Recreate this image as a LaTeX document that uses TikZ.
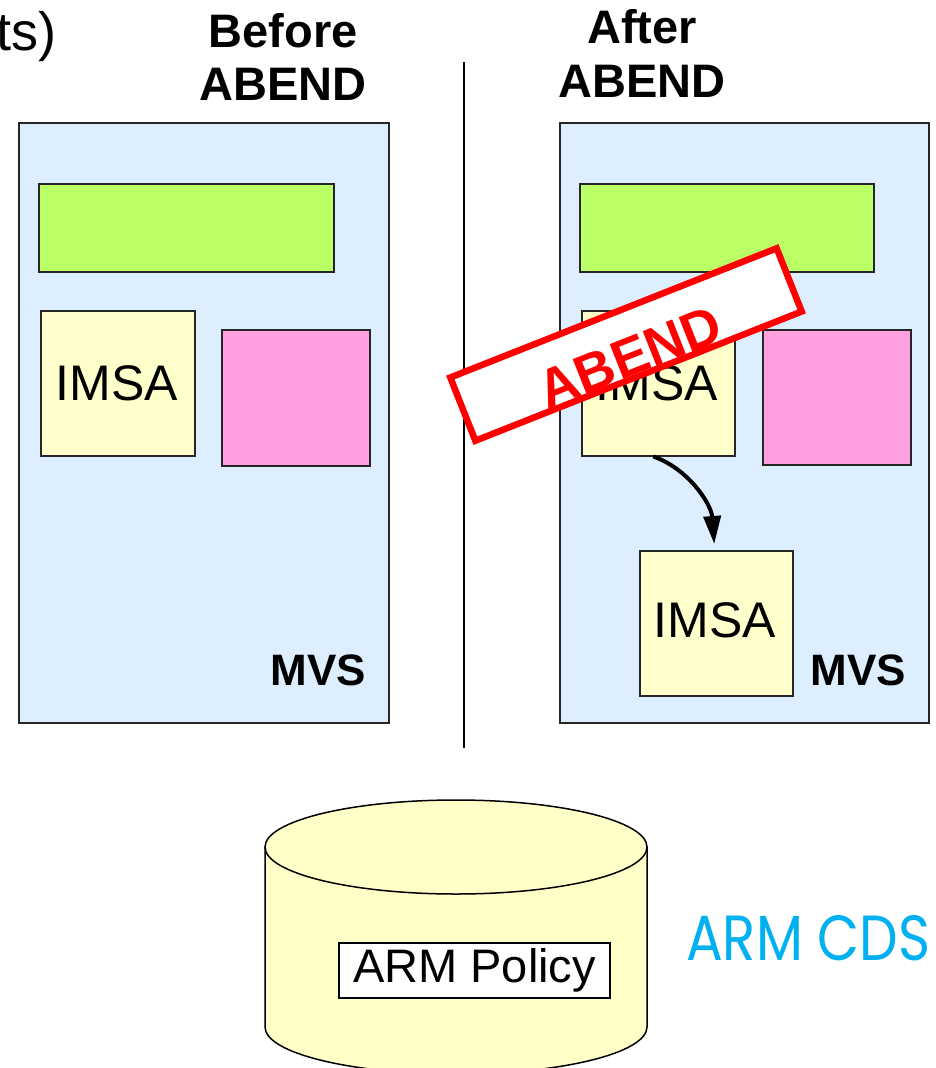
\documentclass[tikz,border=0pt]{standalone}
\usepackage{fontspec}
\setmainfont{Liberation Sans}
\newfontfamily\cdsfont{Poppins}
\usetikzlibrary{arrows.meta}
\definecolor{mvsblue}{RGB}{221,238,255}
\definecolor{topgreen}{RGB}{187,255,102}
\definecolor{pinkbox}{RGB}{255,160,224}
\definecolor{imsayellow}{RGB}{255,255,204}
\definecolor{cylyellow}{RGB}{255,255,200}
\definecolor{cdsblue}{RGB}{0,176,240}
\definecolor{stampred}{RGB}{255,0,0}
\begin{document}
\begin{tikzpicture}[x=1pt,y=-1pt,
  box/.style={draw=black!85,line width=1.5pt,inner sep=0pt,anchor=north west},
  txt/.style={inner sep=0pt,anchor=base,font=\fontsize{50}{50}\selectfont},
  hdr/.style={inner sep=0pt,anchor=base,font=\bfseries\fontsize{47}{47}\selectfont},
  mvslbl/.style={inner sep=0pt,anchor=base east,font=\bfseries\fontsize{44}{44}\selectfont}]
\useasboundingbox (0,0) rectangle (935,1068);
\clip (0,0) rectangle (935,1068);

% cut-off title text
\node[inner sep=0pt,anchor=base east,font=\fontsize{54}{54}\selectfont] (ts) at (57,50) {ts)};

% headers
\node[hdr] (before1) at (283,47) {Before};
\node[hdr] (before2) at (283,100) {ABEND};
\node[hdr] (after1) at (642,43) {After};
\node[hdr] (after2) at (642,97) {ABEND};

% divider
\coordinate (dtop) at (464,62);
\coordinate (dbot) at (464,748);
\draw[line width=1.5pt] (dtop) -- (dbot);

% left MVS
\node[box,fill=mvsblue,minimum width=370pt,minimum height=600pt] (mvsL) at (18,122) {};
\node[box,fill=topgreen,minimum width=295pt,minimum height=88pt] (greenL) at (38,183) {};
\node[box,fill=imsayellow,minimum width=154pt,minimum height=145pt] (imsaL) at (40,310) {};
\node[box,fill=pinkbox,minimum width=148pt,minimum height=136pt] (pinkL) at (221,329) {};
\node[txt] (imsaLt) at (117,400) {IMSA};
\node[mvslbl] (mvsLt) at (366,685) {MVS};

% right MVS
\node[box,fill=mvsblue,minimum width=369pt,minimum height=600pt] (mvsR) at (559,122) {};
\node[box,fill=topgreen,minimum width=294pt,minimum height=88pt] (greenR) at (579,183) {};
\node[box,fill=imsayellow,minimum width=153pt,minimum height=145pt] (imsaR) at (581,310) {};
\node[box,fill=pinkbox,minimum width=148pt,minimum height=135pt] (pinkR) at (762,329) {};
\node[box,fill=imsayellow,minimum width=153pt,minimum height=145pt] (imsaB) at (639,550) {};
\node[txt] (imsaRt) at (657,400) {IMSA};
\node[txt] (imsaBt) at (715,637) {IMSA};
\node[mvslbl] (mvsRt) at (906,685) {MVS};

% restart arrow
\draw[line width=4pt,-{Triangle[length=28pt,width=17pt]}]
  ([xshift=-5pt]imsaR.south) .. controls +(35,12) and +(-3,-40) .. ([xshift=-2pt,yshift=6pt]imsaB.north);

% ABEND stamp
\node[draw=stampred,line width=6.5pt,fill=white,rotate=21.6,minimum width=351pt,minimum height=68pt,inner sep=0pt] (stamp) at (626,344.5) {};
\node[inner sep=0pt,rotate=21.6,text=stampred,font=\bfseries\fontsize{54}{54}\selectfont] (stampt) at (630,357) {ABEND};

% cylinder
\filldraw[fill=cylyellow,draw=black,line width=1.5pt]
  (265,847) -- (265,1027) arc[start angle=180,end angle=0,x radius=191,y radius=47] -- (647,847) -- cycle;
\filldraw[fill=cylyellow,draw=black,line width=1.5pt] (456,847) ellipse[x radius=191,y radius=47];
\node[draw=black,fill=white,line width=1.5pt,minimum width=271pt,minimum height=55pt,inner sep=0pt,font=\fontsize{47}{47}\selectfont] (policy) at (474.5,970.5) {ARM Policy};

% label
\node[inner sep=0pt,anchor=base west,text=cdsblue] (cds) at (686,960) {\resizebox{244pt}{45pt}{\cdsfont ARM CDS}};
\end{tikzpicture}
\end{document}
